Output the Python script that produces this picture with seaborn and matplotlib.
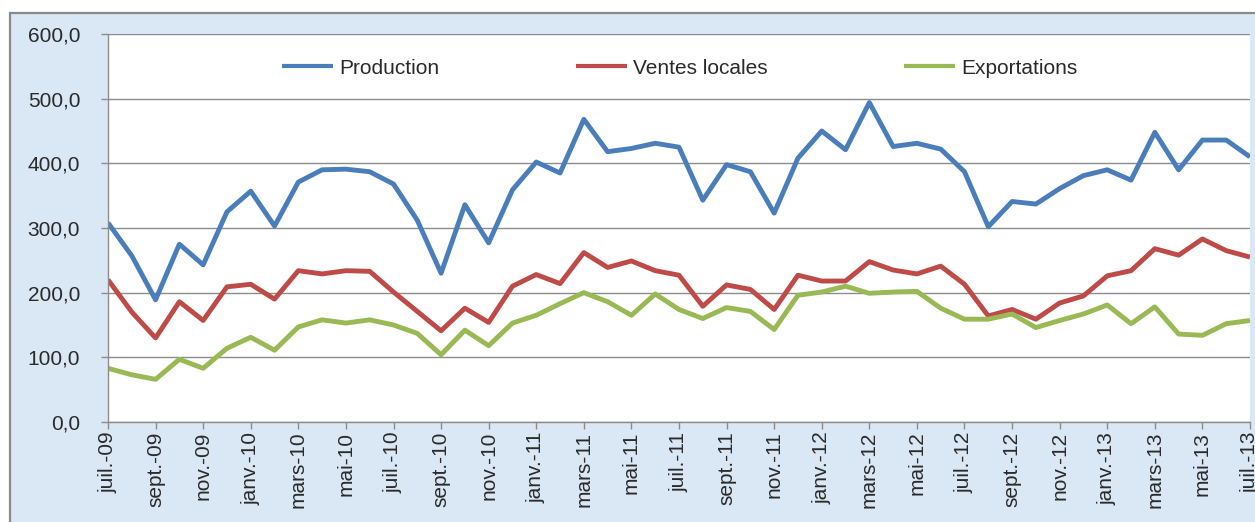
import numpy as np
import pandas as pd
import matplotlib
matplotlib.use("Agg")
import matplotlib.pyplot as plt
from matplotlib.patches import Rectangle
import seaborn as sns

# ---- data (monthly, juil.-09 .. juil.-13) ----
production = [308, 257, 189, 275, 243, 325, 357, 303, 371, 390, 391, 387, 368,
              312, 230, 336, 277, 359, 402, 385, 468, 418, 423, 431, 425,
              343, 398, 387, 323, 408, 450, 421, 494, 426, 431, 422, 387,
              302, 341, 337, 361, 381, 390, 374, 448, 390, 436, 436, 410]
ventes_locales = [220, 170, 130, 186, 157, 209, 213, 190, 234, 229, 234, 233, 201,
                  171, 141, 176, 154, 210, 228, 214, 262, 239, 249, 234, 227,
                  179, 212, 205, 174, 227, 218, 218, 248, 235, 229, 241, 213,
                  164, 174, 159, 184, 195, 226, 234, 268, 258, 283, 265, 255]
exportations = [83, 73, 66, 97, 83, 114, 131, 111, 147, 158, 153, 158, 150,
                137, 104, 142, 118, 153, 165, 183, 200, 186, 165, 198, 174,
                160, 177, 171, 143, 196, 201, 210, 199, 201, 202, 176, 159,
                159, 167, 146, 157, 167, 181, 152, 178, 136, 134, 152, 157]
series_names = ["Production", "Ventes locales", "Exportations"]
tick_labels = ["juil.-09", "sept.-09", "nov.-09", "janv.-10", "mars-10", "mai-10",
               "juil.-10", "sept.-10", "nov.-10", "janv.-11", "mars-11", "mai-11",
               "juil.-11", "sept.-11", "nov.-11", "janv.-12", "mars-12", "mai-12",
               "juil.-12", "sept.-12", "nov.-12", "janv.-13", "mars-13", "mai-13",
               "juil.-13"]
y_ticks = [0, 100, 200, 300, 400, 500, 600]
colors = ["#4a7ebb", "#be4b48", "#98b954"]

n = len(production)
df = pd.DataFrame({
    "mois": list(range(n)) * 3,
    "valeur": production + ventes_locales + exportations,
    "serie": [series_names[0]] * n + [series_names[1]] * n + [series_names[2]] * n,
})

sns.set_style("white")
plt.rcParams["font.family"] = ["Liberation Sans", "DejaVu Sans"]

W, H = 1255, 522
fig = plt.figure(figsize=(W / 100, H / 100), dpi=100, facecolor="white")

# outer chart area background with gray border
bg = Rectangle((10 / W, -0.05), 1.2, 1 - 13 / H + 0.05, transform=fig.transFigure,
               facecolor="#dae7f4", edgecolor="#8a8a8a", linewidth=1.6, zorder=-10)
fig.add_artist(bg)

ax = fig.add_axes([108 / W, 1 - 422 / H, (1250 - 108) / W, (422 - 34) / H])
ax.set_zorder(5)
ax.set_facecolor("white")

sns.lineplot(data=df, x="mois", y="valeur", hue="serie", hue_order=series_names,
             palette=colors, linewidth=3.5, ax=ax, sort=False, legend=True)
for line in ax.get_lines():
    line.set_solid_joinstyle("round")
    line.set_solid_capstyle("butt")

ax.set_xlim(0, n - 1)
ax.set_ylim(0, 600)
ax.set_yticks(y_ticks)
ax.set_yticklabels([f"{v:.1f}".replace(".", ",") for v in y_ticks], fontsize=15,
                   color="#2a2a2a")
ax.set_xticks(list(range(0, n, 2)))
ax.set_xticklabels(tick_labels, rotation=90, fontsize=15, color="#2a2a2a",
                   ha="center", va="top")
ax.set_xlabel("")
ax.set_ylabel("")

ax.grid(axis="y", color="#8c8c8c", linewidth=1.0)
ax.grid(axis="x", visible=False)
ax.set_axisbelow(True)
for s in ["top", "right"]:
    ax.spines[s].set_visible(False)
for s in ["left", "bottom"]:
    ax.spines[s].set_color("#8c8c8c")
    ax.spines[s].set_linewidth(1.0)
ax.tick_params(axis="y", length=5, width=1, color="#8c8c8c", pad=15, left=True)
ax.tick_params(axis="x", length=5, width=1, color="#8c8c8c", pad=2, bottom=True)

leg = ax.legend(loc="center left", bbox_to_anchor=(282 / W, 1 - 68 / H),
                bbox_transform=fig.transFigure, ncol=3, frameon=False,
                fontsize=15, handlelength=2.45, handletextpad=0.3,
                columnspacing=6.55, borderpad=0, borderaxespad=0)
for h in leg.get_lines():
    h.set_linewidth(3.0)
for t in leg.get_texts():
    t.set_color("#2a2a2a")

fig.savefig("out.png", dpi=100, facecolor="white")
